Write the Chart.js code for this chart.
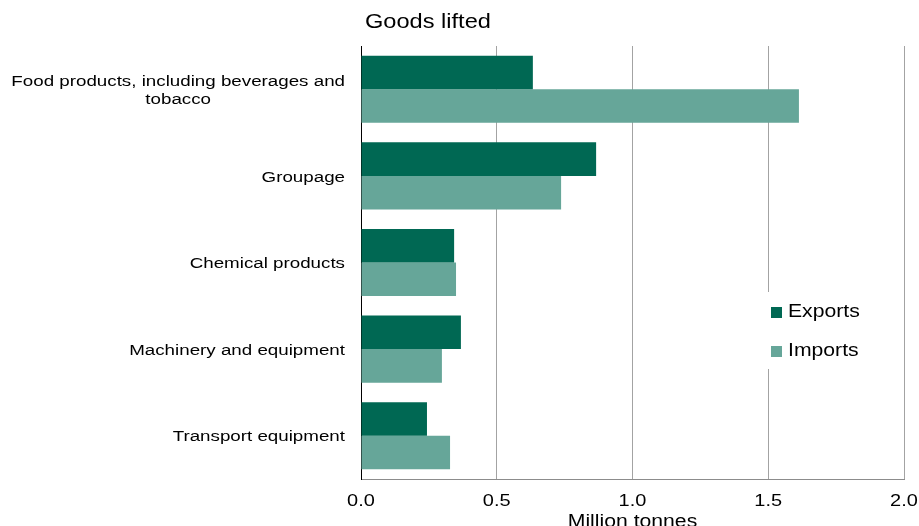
<!DOCTYPE html>
<html>
<head>
<meta charset="utf-8">
<script src="https://cdn.jsdelivr.net/npm/chart.js@4"></script>
<style>
  html, body { margin: 0; padding: 0; background: #fff; }
  canvas { display: block; }
</style>
</head>
<body>
<canvas id="chart" width="919" height="526"></canvas>
<script>
const categories = [
  ["Food products, including beverages and", "tobacco"],
  "Groupage",
  "Chemical products",
  "Machinery and equipment",
  "Transport equipment",
];
const exportsValues = [0.633, 0.866, 0.343, 0.368, 0.243];
const importsValues = [1.613, 0.737, 0.35, 0.298, 0.328];
const seriesNames = ["Exports", "Imports"];
const xTicks = [0, 0.5, 1.0, 1.5, 2.0];

const FONT = "'Liberation Sans', Arial, sans-serif";
const SX = 1.21; // original text is a bit wider than Arial
const exportColor = "#006853";
const importColor = "#66a699";

const chartDiv = document.getElementById("chart");

const wideText = (ctx, text, x, y, align) => {
  ctx.save();
  ctx.translate(x, y);
  ctx.scale(SX, 1);
  ctx.textAlign = align;
  ctx.fillText(text, 0, 0);
  ctx.restore();
};

const textWidth = (ctx, text) => ctx.measureText(text).width * SX;

// title, category labels, tick labels and axis title drawn by hand
const labelsPlugin = {
  id: "labels",
  afterDraw: (chart) => {
    const { ctx, chartArea } = chart;
    const yScale = chart.scales.y;
    const xScale = chart.scales.x;
    ctx.save();
    ctx.fillStyle = "#000";
    ctx.textBaseline = "alphabetic";
    ctx.font = `19.5px ${FONT}`;
    wideText(ctx, "Goods lifted", chartArea.left + 4, 28, "left");

    ctx.font = `15.5px ${FONT}`;
    ctx.textBaseline = "middle";
    const right = chartArea.left - 16;
    const lh = 18;
    categories.forEach((label, i) => {
      const lines = Array.isArray(label) ? label : [label];
      const maxW = Math.max(...lines.map((l) => textWidth(ctx, l)));
      const cx = right - maxW / 2;
      const cy = yScale.getPixelForValue(i) + 1.5;
      const top = cy - ((lines.length - 1) * lh) / 2;
      lines.forEach((l, j) => wideText(ctx, l, cx, top + j * lh, "center"));
    });

    ctx.textBaseline = "alphabetic";
    ctx.font = `16.5px ${FONT}`;
    xTicks.forEach((v) => {
      wideText(ctx, v.toFixed(1), xScale.getPixelForValue(v), 506, "center");
    });
    ctx.font = `17.5px ${FONT}`;
    wideText(ctx, "Million tonnes", (chartArea.left + chartArea.right) / 2, 527, "center");
    ctx.restore();
  },
};

const legendPlugin = {
  id: "boxLegend",
  afterDraw: (chart) => {
    const { ctx } = chart;
    ctx.save();
    ctx.fillStyle = "#fff";
    ctx.fillRect(762, 292, 134, 77);
    ctx.font = `17.5px ${FONT}`;
    ctx.textBaseline = "middle";
    chart.data.datasets.forEach((ds, i) => {
      const y = 312 + i * 39;
      ctx.fillStyle = ds.backgroundColor;
      ctx.fillRect(771, y - 5, 11, 11);
      ctx.fillStyle = "#000";
      wideText(ctx, ds.label, 788, y, "left");
    });
    ctx.restore();
  },
};

new Chart(chartDiv, {
  type: "bar",
  data: {
    labels: categories,
    datasets: [
      {
        label: seriesNames[0],
        data: exportsValues,
        backgroundColor: exportColor,
        categoryPercentage: 0.775,
        barPercentage: 1.0,
      },
      {
        label: seriesNames[1],
        data: importsValues,
        backgroundColor: importColor,
        categoryPercentage: 0.775,
        barPercentage: 1.0,
      },
    ],
  },
  options: {
    indexAxis: "y",
    responsive: false,
    animation: false,
    layout: {
      padding: { top: 46, right: 15, left: 0, bottom: 0 },
    },
    scales: {
      x: {
        min: 0,
        max: 2,
        afterBuildTicks: (scale) => {
          scale.ticks = xTicks.map((v) => ({ value: v }));
        },
        afterFit: (scale) => {
          scale.height = 47;
        },
        grid: {
          color: "#a3a3a3",
          lineWidth: 1,
          drawTicks: false,
        },
        border: { display: true, color: "#8c8c8c", width: 1 },
        ticks: { display: false },
      },
      y: {
        afterFit: (scale) => {
          scale.width = 361;
        },
        grid: { display: false },
        border: { display: true, color: "#000", width: 1 },
        ticks: { display: false },
      },
    },
    plugins: {
      legend: { display: false },
      title: { display: false },
      tooltip: { enabled: false },
    },
  },
  plugins: [labelsPlugin, legendPlugin],
});
</script>
</body>
</html>
